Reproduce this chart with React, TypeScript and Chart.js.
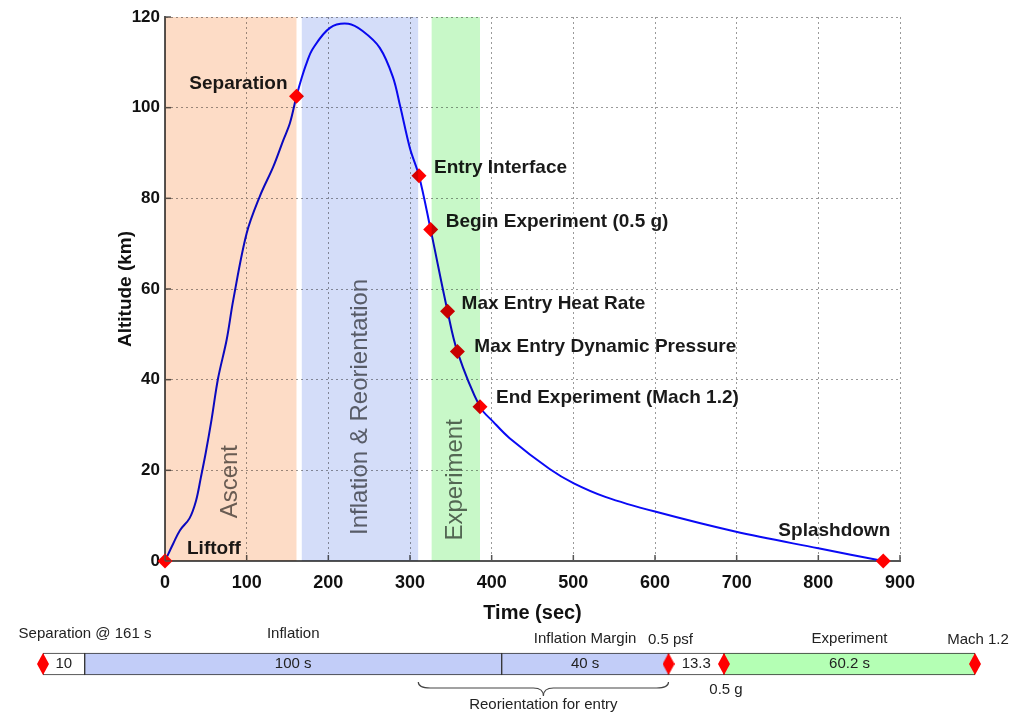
import React, { useEffect, useRef } from 'react';
import { Chart, registerables } from 'chart.js';

Chart.register(...registerables);

const FONT = "'Liberation Sans', Arial, Helvetica, sans-serif";

// ---------- main trajectory data ----------
const trajTime = [0, 10, 18.4, 30, 38, 44, 50, 57, 65, 75.5, 83.6, 100, 116, 132.6, 145, 153, 161, 167.4, 173.5, 181, 202, 224.5, 242, 263, 279, 288, 300, 311, 325.3, 346, 358, 385.7, 402, 422, 471, 500, 540, 600, 698, 800, 879.5];
const trajAlt = [0, 3.8, 6.8, 9.4, 13.3, 18.5, 24, 31.2, 40.3, 48.8, 57.6, 72.3, 80.4, 87, 92.9, 96.6, 102.5, 106.6, 109.9, 113, 117.6, 118.5, 116.9, 113.2, 106.8, 100.3, 91, 85, 73.1, 55.1, 46.2, 34, 30.7, 27.1, 20.3, 17.2, 14.1, 10.9, 6.5, 2.8, 0];

const eventNames = ['Liftoff', 'Separation', 'Entry Interface', 'Begin Experiment (0.5 g)', 'Max Entry Heat Rate', 'Max Entry Dynamic Pressure', 'End Experiment (Mach 1.2)', 'Splashdown'];
const eventTime = [0, 161, 311, 325.3, 346, 358, 385.7, 879.5];
const eventAlt = [0, 102.5, 85, 73.1, 55.1, 46.2, 34, 0];

const phaseNames = ['Ascent', 'Inflation & Reorientation', 'Experiment'];
const phaseStart = [0, 167.5, 326.5];
const phaseEnd = [161, 310, 385.7];
const phaseLabelAlt = [17.5, 34, 17.9];

const xTickValues = [0, 100, 200, 300, 400, 500, 600, 700, 800, 900];
const yTickValues = [0, 20, 40, 60, 80, 100, 120];

// ---------- timeline strip data ----------
const segLabels = ['10', '100 s', '40 s', '13.3', '60.2 s'];
const segStart = [161, 171, 271, 311, 324.3];
const segEnd = [171, 271, 311, 324.3, 384.5];
const segPhase = ['', 'Inflation', 'Inflation Margin', '', 'Experiment'];
const milestoneTime = [161, 311, 324.3, 384.5];
const milestoneLabels = ['Separation @ 161 s', '0.5 psf', '0.5 g', 'Mach 1.2'];
const reorientRange = [251, 311];
const reorientLabel = 'Reorientation for entry';

// ---------- styles / layout (not data) ----------
const phaseColors = ['#fddcc6', '#d4ddf9', '#c8f8c8'];
const eventDx = [22, -9, 15, 15, 14, 17, 16, 7];
const eventDy = [-12, -13, -8, -8, -7, -5, -9, -30];
const eventAlign: CanvasTextAlign[] = ['left', 'right', 'left', 'left', 'left', 'left', 'left', 'right'];
const segColors = ['#ffffff', '#c2cdf8', '#c2cdf8', '#ffffff', '#b4ffb4'];
const segPhaseY = [0, 19, 24, 0, 24];
const milestoneDx = [42, 2, 2, 3];
const milestoneY = [19, 25, 75, 25];

function makeDiamond(w: number, h: number, color: string) {
  const c = document.createElement('canvas');
  c.width = w;
  c.height = h;
  const g = c.getContext('2d')!;
  g.fillStyle = color;
  g.beginPath();
  g.moveTo(w / 2, 0);
  g.lineTo(w, h / 2);
  g.lineTo(w / 2, h);
  g.lineTo(0, h / 2);
  g.closePath();
  g.fill();
  return c;
}

const mainPlugin = {
  id: 'mainDecor',
  afterDatasetsDraw(chart: any) {
    const { ctx, chartArea: a, scales } = chart;
    const x = scales.x;
    const y = scales.y;
    ctx.save();
    // inward tick marks
    ctx.strokeStyle = '#555';
    ctx.lineWidth = 1.5;
    xTickValues.forEach((v) => {
      const px = x.getPixelForValue(v);
      ctx.beginPath();
      ctx.moveTo(px, a.bottom);
      ctx.lineTo(px, a.bottom - 6);
      ctx.stroke();
    });
    yTickValues.forEach((v) => {
      const py = y.getPixelForValue(v);
      ctx.beginPath();
      ctx.moveTo(a.left, py);
      ctx.lineTo(a.left + 6, py);
      ctx.stroke();
    });
    // phase labels (rotated)
    ctx.fillStyle = '#6a6a6a';
    ctx.font = `24px ${FONT}`;
    ctx.textAlign = 'center';
    ctx.textBaseline = 'middle';
    phaseNames.forEach((n, i) => {
      const cx = x.getPixelForValue((phaseStart[i] + phaseEnd[i]) / 2);
      const cy = y.getPixelForValue(phaseLabelAlt[i]);
      ctx.save();
      ctx.translate(cx, cy);
      ctx.rotate(-Math.PI / 2);
      ctx.fillText(n, 0, 0);
      ctx.restore();
    });
    // event labels
    ctx.font = `bold 19px ${FONT}`;
    ctx.fillStyle = '#1a1a1a';
    eventNames.forEach((n, i) => {
      const px = x.getPixelForValue(eventTime[i]);
      const py = y.getPixelForValue(eventAlt[i]);
      ctx.textAlign = eventAlign[i];
      ctx.fillText(n, px + eventDx[i], py + eventDy[i]);
    });
    // phase bands, multiplied over everything
    ctx.globalCompositeOperation = 'multiply';
    phaseNames.forEach((_, i) => {
      const x0 = x.getPixelForValue(phaseStart[i]);
      const x1 = x.getPixelForValue(phaseEnd[i]);
      ctx.fillStyle = phaseColors[i];
      ctx.fillRect(x0, a.top, x1 - x0, a.bottom - a.top);
    });
    ctx.restore();
  },
};

const stripPlugin = {
  id: 'stripDecor',
  afterDatasetsDraw(chart: any) {
    const { ctx, scales } = chart;
    const x = scales.x;
    const yc = scales.y.getPixelForValue(0);
    ctx.save();
    ctx.fillStyle = '#222';
    ctx.font = `15px ${FONT}`;
    ctx.textAlign = 'center';
    ctx.textBaseline = 'middle';
    segLabels.forEach((s, i) => {
      const cx = (x.getPixelForValue(segStart[i]) + x.getPixelForValue(segEnd[i])) / 2;
      ctx.fillText(s, cx, yc);
      if (segPhase[i]) ctx.fillText(segPhase[i], cx, segPhaseY[i]);
    });
    milestoneLabels.forEach((s, i) => {
      ctx.fillText(s, x.getPixelForValue(milestoneTime[i]) + milestoneDx[i], milestoneY[i]);
    });
    // brace
    const xa = x.getPixelForValue(reorientRange[0]);
    const xb = x.getPixelForValue(reorientRange[1]);
    const xm = (xa + xb) / 2;
    const y0 = 67, y1 = 73, y2 = 81;
    ctx.strokeStyle = '#444';
    ctx.lineWidth = 1.2;
    ctx.beginPath();
    ctx.moveTo(xa, y0);
    ctx.quadraticCurveTo(xa, y1, xa + 12, y1);
    ctx.lineTo(xm - 10, y1);
    ctx.quadraticCurveTo(xm, y1, xm, y2);
    ctx.quadraticCurveTo(xm, y1, xm + 10, y1);
    ctx.lineTo(xb - 12, y1);
    ctx.quadraticCurveTo(xb, y1, xb, y0);
    ctx.stroke();
    ctx.fillText(reorientLabel, xm, 90);
    ctx.restore();
  },
};

export default function App() {
  const mainRef = useRef<HTMLCanvasElement>(null);
  const stripRef = useRef<HTMLCanvasElement>(null);

  useEffect(() => {
    const main = new Chart(mainRef.current!, {
      type: 'line',
      data: {
        datasets: [
          {
            data: trajTime.map((t, i) => ({ x: t, y: trajAlt[i] })),
            borderColor: '#0a0af5',
            borderWidth: 2,
            pointRadius: 0,
            tension: 0.35,
            fill: false,
            order: 2,
          } as any,
          {
            data: eventTime.map((t, i) => ({ x: t, y: eventAlt[i] })),
            showLine: false,
            pointStyle: 'rectRot',
            pointRadius: 7.5,
            backgroundColor: '#ff0000',
            borderColor: '#ff0000',
            borderWidth: 0,
            clip: false,
            order: 1,
          } as any,
        ],
      },
      options: {
        responsive: false,
        animation: false,
        layout: { padding: { left: 110, top: 17, right: 111, bottom: 0 } },
        plugins: { legend: { display: false }, tooltip: { enabled: false } },
        scales: {
          x: {
            type: 'linear',
            min: 0,
            max: 900,
            afterBuildTicks: (s: any) => {
              s.ticks = xTickValues.map((v) => ({ value: v }));
            },
            afterFit: (s: any) => {
              s.height = 69;
            },
            grid: { color: '#9a9a9a', lineWidth: 1, drawTicks: false },
            border: { color: '#555', width: 2, dash: [2, 3] },
            ticks: { color: '#111', font: { family: FONT, size: 18, weight: 'bold' }, padding: 11, maxRotation: 0 },
            title: { display: true, text: 'Time (sec)', color: '#111', font: { family: FONT, size: 20, weight: 'bold' }, padding: { top: 0, bottom: 5 } },
          },
          y: {
            type: 'linear',
            min: 0,
            max: 120,
            afterBuildTicks: (s: any) => {
              s.ticks = yTickValues.map((v) => ({ value: v }));
            },
            afterFit: (s: any) => {
              s.width = 55;
            },
            grid: { color: '#9a9a9a', lineWidth: 1, drawTicks: false },
            border: { color: '#555', width: 2, dash: [2, 3] },
            ticks: { color: '#111', font: { family: FONT, size: 17, weight: 'bold' }, padding: 5 },
            title: { display: true, text: 'Altitude (km)', color: '#111', font: { family: FONT, size: 19, weight: 'bold' }, padding: { top: 4, bottom: 0 } },
          },
        },
      } as any,
      plugins: [mainPlugin],
    });

    const diamond = makeDiamond(12, 22, '#ff0000');
    const strip = new Chart(stripRef.current!, {
      type: 'bar',
      data: {
        labels: ['timeline'],
        datasets: [
          ...segStart.map((s, i) => ({
            type: 'bar',
            data: [[s, segEnd[i]]],
            backgroundColor: segColors[i],
            borderColor: '#333',
            borderWidth: 1,
            borderSkipped: false,
            barThickness: 22,
            grouped: false,
            order: 2,
          })),
          {
            type: 'scatter',
            data: milestoneTime.map((t) => ({ x: t, y: 'timeline' })),
            pointStyle: diamond,
            pointRadius: 6,
            clip: false,
            order: 0,
          },
        ] as any,
      },
      options: {
        indexAxis: 'y',
        responsive: false,
        animation: false,
        layout: { padding: { left: 43, right: 36, top: 27, bottom: 29 } },
        plugins: { legend: { display: false }, tooltip: { enabled: false } },
        scales: {
          x: { type: 'linear', min: 161, max: 384.5, display: false },
          y: { type: 'category', offset: true, display: false },
        },
      } as any,
      plugins: [stripPlugin],
    });

    return () => {
      main.destroy();
      strip.destroy();
    };
  }, []);

  return (
    <div style={{ position: 'absolute', left: 0, top: 0, width: 1011, height: 715, background: '#fff' }}>
      <canvas ref={mainRef} width={1011} height={630} style={{ position: 'absolute', left: 0, top: 0 }} />
      <canvas ref={stripRef} width={1011} height={100} style={{ position: 'absolute', left: 0, top: 615 }} />
    </div>
  );
}
